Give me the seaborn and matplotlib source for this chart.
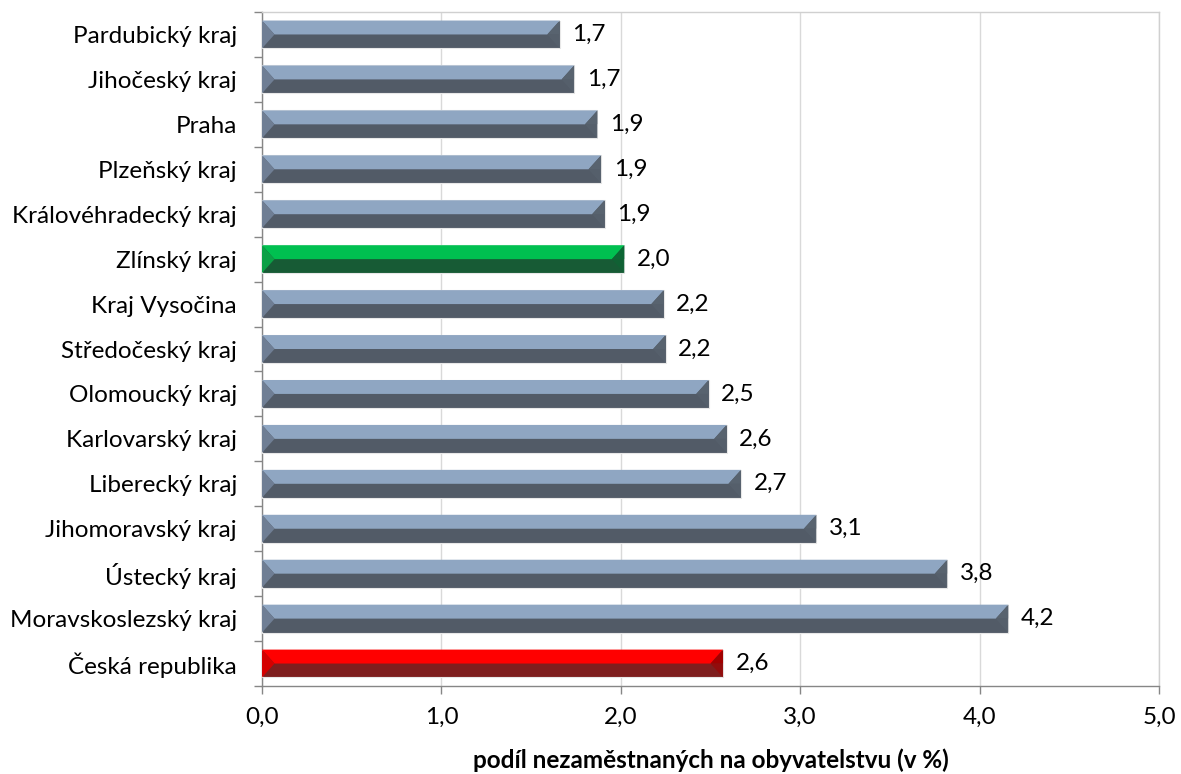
import matplotlib
matplotlib.use("Agg")
import matplotlib.pyplot as plt
from matplotlib.patches import Polygon
from matplotlib.ticker import FuncFormatter, MultipleLocator, FixedLocator
import seaborn as sns
import pandas as pd
import numpy as np

regions = ["Pardubický kraj", "Jihočeský kraj", "Praha", "Plzeňský kraj",
           "Královéhradecký kraj", "Zlínský kraj", "Kraj Vysočina",
           "Středočeský kraj", "Olomoucký kraj", "Karlovarský kraj",
           "Liberecký kraj", "Jihomoravský kraj", "Ústecký kraj",
           "Moravskoslezský kraj", "Česká republika"]
values = [1.66, 1.74, 1.87, 1.89, 1.91, 2.02, 2.24, 2.25, 2.49, 2.59,
          2.67, 3.09, 3.82, 4.16, 2.57]
labels = ["1,7", "1,7", "1,9", "1,9", "1,9", "2,0", "2,2", "2,2", "2,5",
          "2,6", "2,7", "3,1", "3,8", "4,2", "2,6"]
xlabel = "podíl nezaměstnaných na obyvatelstvu (v %)"

# colour scheme: (light top, dark bottom, left cap, right cap)
blue = ("#8FA6C2", "#4F5A6A", "#6F7E94", "#58636F")
green = ("#00C050", "#0C6634", "#0BA046", "#0C6634")
red = ("#FF0000", "#8E0E0E", "#D40000", "#A00000")
schemes = [green if r == "Zlínský kraj" else red if r == "Česká republika" else blue
           for r in regions]

sns.set_theme(style="white")
plt.rcParams['font.family'] = ['Lato', 'DejaVu Sans']
FS = 17.5

df = pd.DataFrame({"region": regions, "value": values})

fig = plt.figure(figsize=(11.81, 7.74), dpi=100)
ax = fig.add_axes([262/1181, 1-686/774, (1159-262)/1181, (686-12)/774])

bar_h = 0.62
sns.barplot(data=df, x="value", y="region", orient="h", ax=ax,
            palette=[s[1] for s in schemes], hue="region", legend=False,
            width=bar_h, edgecolor="#E8E8E8", linewidth=0.8, zorder=3)

ax.set_xlim(0, 5)
ax.set_ylim(len(regions) - 0.5, -0.5)

# bevel geometry in data units
px_per_x = (1159 - 262) / 5.0
bev_x = 12.5 / px_per_x
for i, (v, s) in enumerate(zip(values, schemes)):
    top = i - bar_h / 2
    mid = i
    bot = i + bar_h / 2
    ax.add_patch(Polygon([(0, top), (v, top), (v - bev_x, mid), (bev_x, mid)],
                         closed=True, facecolor=s[0], edgecolor="none", zorder=4))
    ax.add_patch(Polygon([(v, top), (v - bev_x, mid), (v, mid)],
                         closed=True, facecolor=s[3], edgecolor="none", zorder=4))
    ax.add_patch(Polygon([(v, mid), (v - bev_x, mid), (v, bot)],
                         closed=True, facecolor=s[3], edgecolor="none", zorder=4, alpha=0.6))
    ax.add_patch(Polygon([(0, top), (bev_x, mid), (0, bot)],
                         closed=True, facecolor=s[2], edgecolor="none", zorder=4))
    ax.annotate(labels[i], xy=(v, i), xytext=(9, 0), textcoords="offset points",
                ha="left", va="center", fontsize=FS, color="black", zorder=5)

ax.xaxis.set_major_locator(MultipleLocator(1.0))
ax.xaxis.set_major_formatter(FuncFormatter(lambda x, p: f"{x:.1f}".replace(".", ",")))
ax.grid(axis="x", color="#D9D9D9", linewidth=1.0, zorder=0)
ax.grid(axis="y", visible=False)
ax.set_axisbelow(True)
for side in ["top", "right", "left", "bottom"]:
    ax.spines[side].set_visible(True)
    ax.spines[side].set_color("#D0D0D0")
    ax.spines[side].set_linewidth(1.0)
ax.spines["left"].set_color("#868686")
ax.spines["bottom"].set_color("#868686")

ax.tick_params(axis="x", which="major", bottom=True, length=6, width=1,
               color="#868686", labelsize=FS, pad=9, labelcolor="black")
ax.yaxis.set_minor_locator(FixedLocator(np.arange(-0.5, len(regions), 1.0)))
ax.tick_params(axis="y", which="major", left=False, labelsize=FS, pad=12,
               labelcolor="black")
ax.tick_params(axis="y", which="minor", left=True, length=6, width=1,
               color="#868686")

ax.set_ylabel("")
ax.set_xlabel(xlabel, fontsize=FS, fontweight="bold", labelpad=15, color="black")

fig.savefig("out.png", dpi=100)
